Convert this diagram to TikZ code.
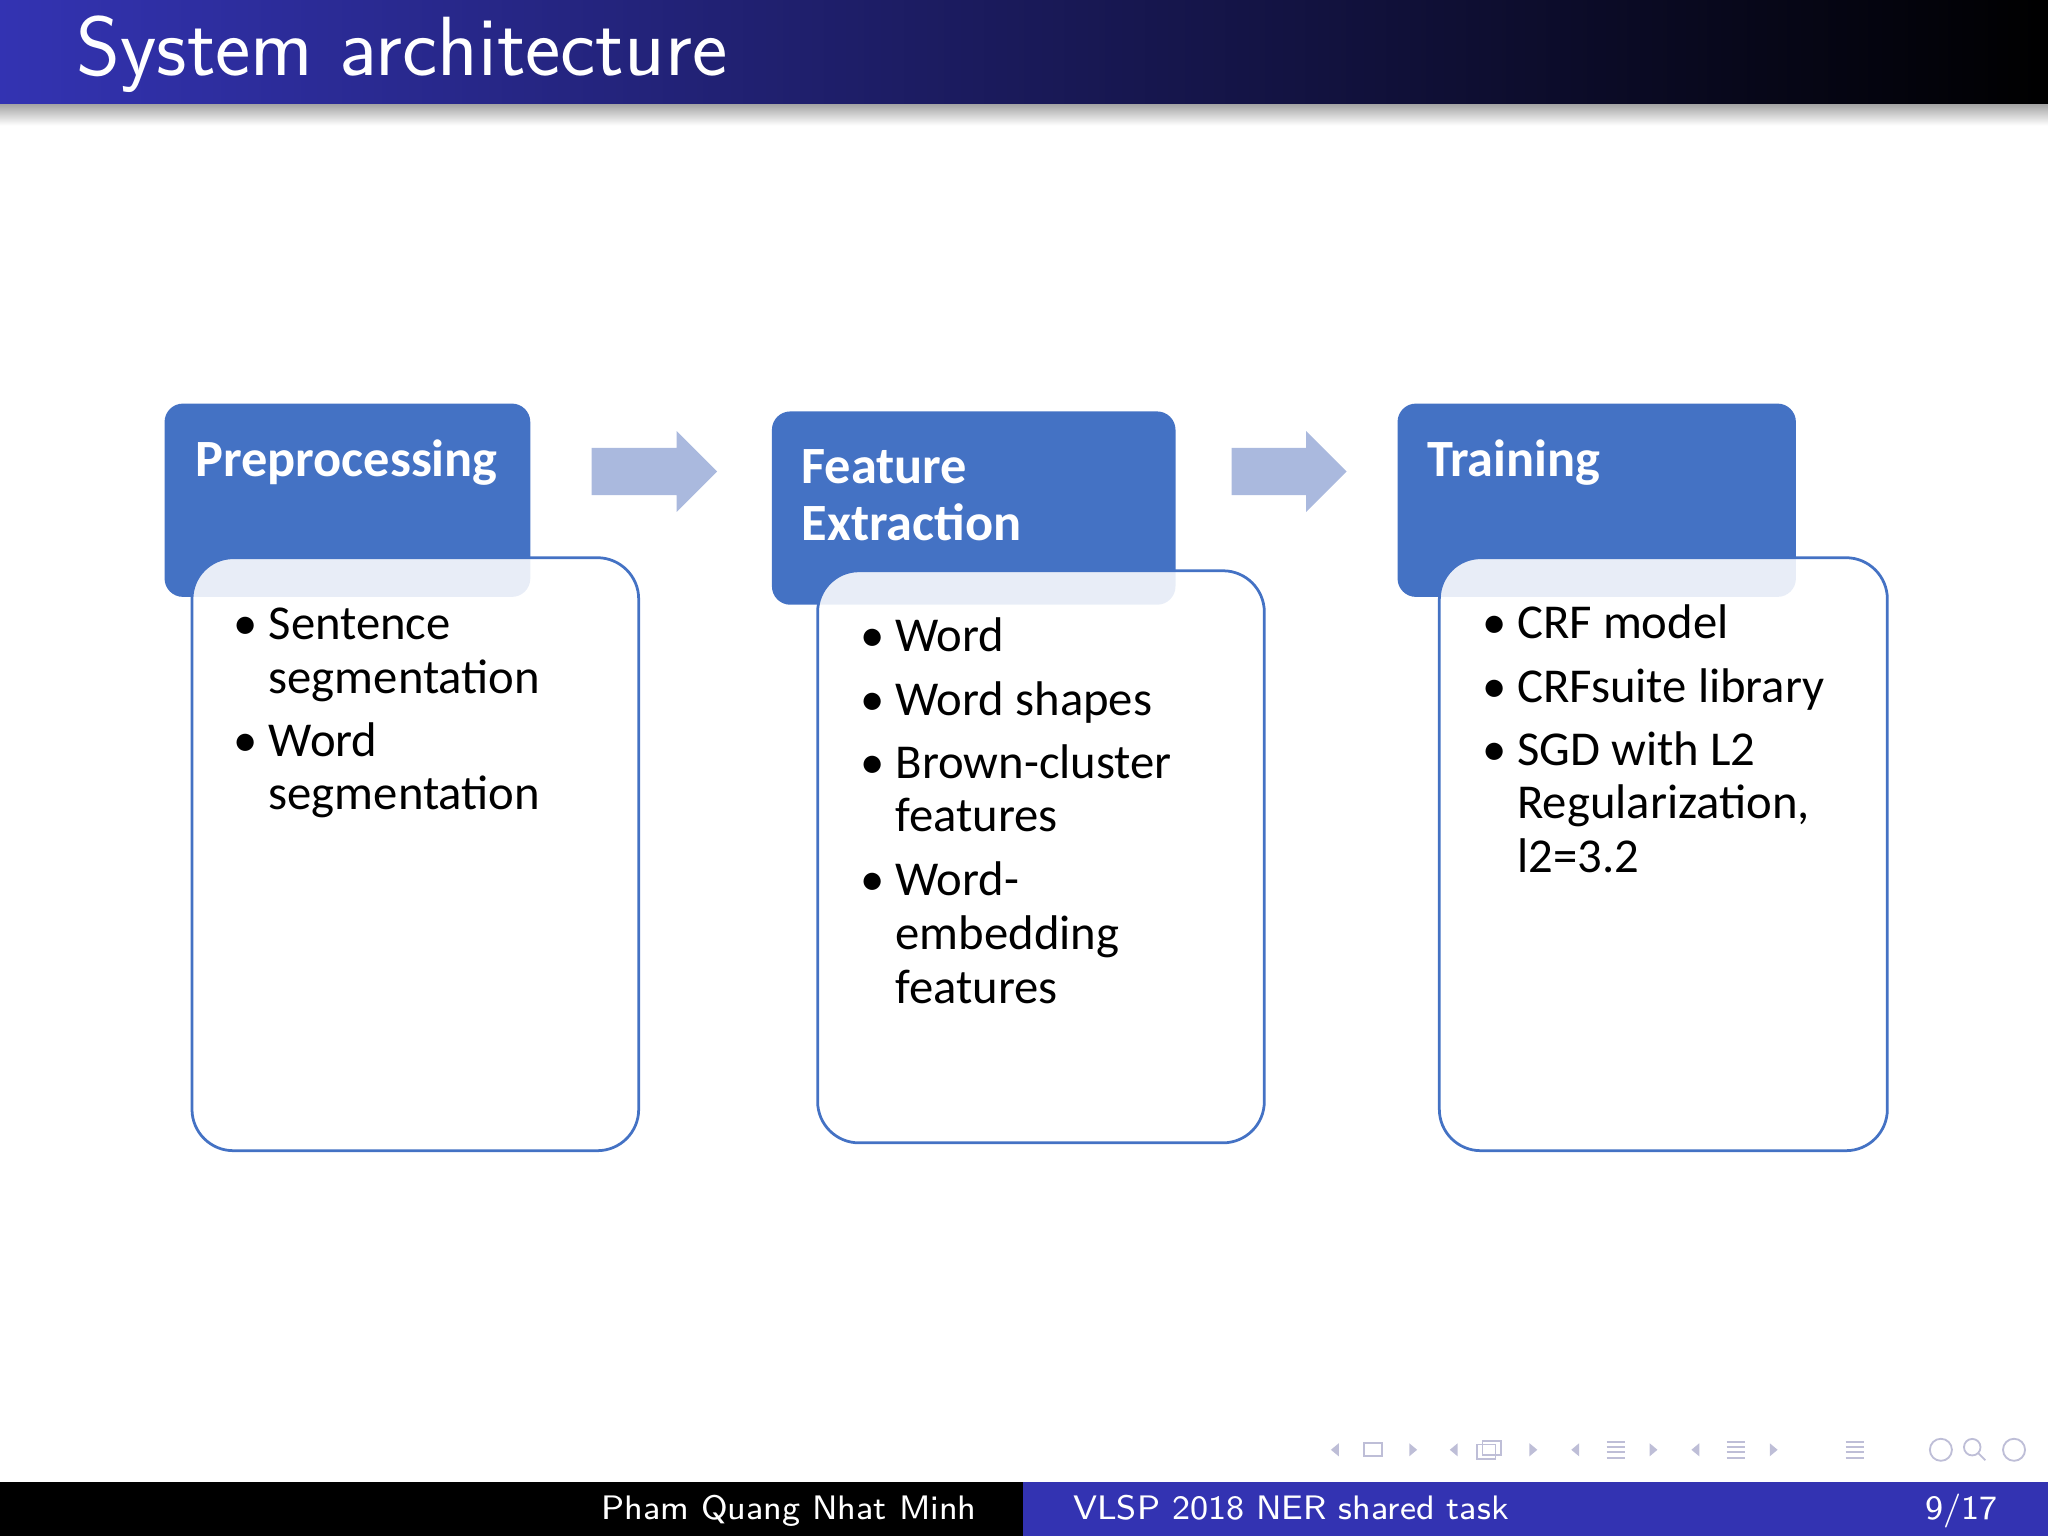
\documentclass[tikz,border=0pt]{standalone}
\usepackage{fontspec}
\setmainfont{Carlito}
\definecolor{hdr}{RGB}{68,114,196}
\definecolor{arr}{RGB}{170,185,222}
\definecolor{tblue}{RGB}{51,51,178}
\definecolor{nav}{RGB}{190,190,215}
\tikzset{
  head/.style={fill=hdr,rounded corners=4pt},
  body/.style={draw=hdr,line width=0.6pt,fill=white,fill opacity=0.88,rounded corners=9pt},
  htext/.style={anchor=base west,text=white,font=\bfseries\fontsize{11.4}{13}\selectfont,inner sep=0},
  itext/.style={anchor=base west,font=\fontsize{10.6}{12}\selectfont,inner sep=0},
}
\begin{document}
\begin{tikzpicture}[x=0.01cm,y=-0.01cm]
\useasboundingbox (0,0) rectangle (1568,1176);
% title bar
\shade[left color=tblue,right color=black] (0,0) rectangle (1568,80);
\shade[top color=black!35,bottom color=white] (0,80) rectangle (1568,96);
\node[anchor=base west,text=white,font=\sffamily\fontsize{18.3}{20}\selectfont,inner sep=0] (title) at (58,58) {System architecture};
% footer
\fill[black] (0,1135) rectangle (783,1176);
\fill[tblue] (783,1135) rectangle (1568,1176);
\node[text=white,font=\sffamily\fontsize{7.4}{9}\selectfont,anchor=base] (auth) at (604,1163) {Pham Quang Nhat Minh};
\node[text=white,font=\sffamily\fontsize{7.4}{9}\selectfont,anchor=base west,inner sep=0] (ttl) at (821,1163) {VLSP 2018 NER shared task};
\node[text=white,font=\sffamily\fontsize{7.4}{9}\selectfont,anchor=base east,inner sep=0] (pg) at (1530,1163) {9/17};
% nav symbols
\begin{scope}[nav]
\foreach \x in {1022,1113,1206,1298} \fill (\x,1110) ++(3,-5) -- ++(-6,5) -- ++(6,5) -- cycle;
\foreach \x in {1082,1174,1266,1358} \fill (\x,1110) ++(-3,-5) -- ++(6,5) -- ++(-6,5) -- cycle;
\draw (1044,1105) rectangle (1058,1115);
\draw (1131,1106) rectangle (1145,1117) (1135,1103) rectangle (1149,1114);
\foreach \x in {1237,1329,1420} \foreach \d in {-6,-2,2,6} \draw (\x-7,1110+\d) -- (\x+7,1110+\d);
\draw (1486,1110) circle (2.4pt);
\draw (1510,1108) circle (1.8pt) (1514,1112) -- (1520,1118);
\draw (1542,1110) circle (2.4pt);
\end{scope}
% box 1
\fill[head] (126,309) rectangle (406,457);
\draw[body] (147,427) rectangle (489,881);
\node[htext] (h1) at (149,365) {Preprocessing};
\node[itext] (b11) at (178,490) {\textbullet};
\node[itext] (t11) at (205,490) {Sentence};
\node[itext] (t11b) at (205,531) {segmentation};
\node[itext] (b12) at (178,579) {\textbullet};
\node[itext] (t12) at (205,579) {Word};
\node[itext] (t12b) at (205,620) {segmentation};
% box 2
\fill[head] (591,315) rectangle (900,463);
\draw[body] (626,437) rectangle (968,875);
\node[htext] (h2) at (613,370) {Feature};
\node[htext] (h2b) at (613,414) {Extraction};
\foreach \y/\n in {499/1,548/2,596/3,686/4} \node[itext] (b2\n) at (658,\y) {\textbullet};
\node[itext] (t21) at (685,499) {Word};
\node[itext] (t22) at (685,548) {Word shapes};
\node[itext] (t23) at (685,596) {Brown-cluster};
\node[itext] (t23b) at (685,637) {features};
\node[itext] (t24) at (685,686) {Word-};
\node[itext] (t24b) at (685,727) {embedding};
\node[itext] (t24c) at (685,768) {features};
% box 3
\fill[head] (1070,309) rectangle (1375,457);
\draw[body] (1102,427) rectangle (1445,881);
\node[htext] (h3) at (1092,365) {Training};
\foreach \y/\n in {489/1,538/2,586/3} \node[itext] (b3\n) at (1134,\y) {\textbullet};
\node[itext] (t31) at (1161,489) {CRF model};
\node[itext] (t32) at (1161,538) {CRFsuite library};
\node[itext] (t33) at (1161,586) {SGD with L2};
\node[itext] (t33b) at (1161,627) {Regularization,};
\node[itext] (t33c) at (1161,668) {l2=3.2};
% arrows
\fill[arr] (453,343) -- (518,343) -- (518,330) -- (549,361) -- (518,392) -- (518,379) -- (453,379) -- cycle;
\fill[arr] (943,343) -- (1000,343) -- (1000,330) -- (1031,361) -- (1000,392) -- (1000,379) -- (943,379) -- cycle;
\end{tikzpicture}
\end{document}
